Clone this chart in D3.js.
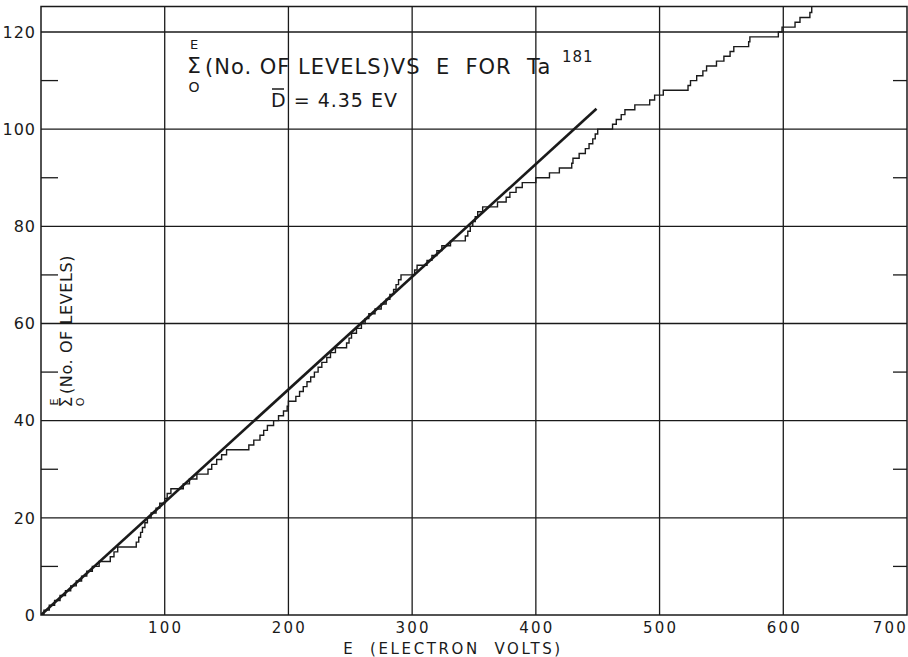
<!DOCTYPE html>
<html><head><meta charset="utf-8">
<script src="https://cdn.jsdelivr.net/npm/d3@7"></script>
<style>body{margin:0;background:#fff}svg{display:block}</style>
</head><body><svg id="c" width="908" height="657"></svg>
<script>
// ---- data ----
const xGridValues = [100, 200, 300, 400, 500, 600];
const xTickValues = [100, 200, 300, 400, 500, 600, 700];
const xTickLabels = ["100", "200", "300", "400", "500", "600", "700"];
const yTickValues = [0, 20, 40, 60, 80, 100, 120];
const yTickLabels = ["0", "20", "40", "60", "80", "100", "120"];
const yMinorTicks = [10, 30, 50, 70, 90, 110];
// energies (eV) at which each successive level is counted (cumulative count steps by 1)
const levelEnergies = [
  2.4, 6.7, 11, 15.4, 19.8, 24, 28.5, 32.8, 37, 41.5,
  47, 56, 59, 62, 77, 79, 80.5, 82, 84, 86,
  89, 93, 96, 100, 102, 105, 115, 120, 126, 135,
  138, 142, 146, 150, 168, 172, 177, 180, 183, 188,
  192, 196, 199, 200, 206, 209, 212, 215, 218, 221,
  224, 227, 231, 234, 238, 247, 249, 251, 255, 259,
  262, 265, 270, 275, 279, 282, 285, 287, 289, 291,
  302, 304, 312, 316, 320, 324, 331, 343, 345, 347,
  349, 351, 353, 357, 369, 376, 379, 384, 389, 400,
  411, 419, 429, 430, 435, 440, 443, 446, 448, 450,
  462, 465, 469, 472, 480, 492, 496, 503, 523, 525,
  530, 535, 538, 546, 552, 557, 560, 572, 573, 596,
  599, 609.5, 613.5, 621.5, 623
];
const meanSpacing = 4.35;          // D-bar (label)
const fitLineE = [0, 449];         // straight line drawn on the chart (energy)
const fitLineN = [0, 104.2];       // straight line drawn on the chart (count)

// ---- layout ----
const svg = d3.select("#c");
const W = 908, H = 657;
const x = d3.scaleLinear().domain([0, 700]).range([41, 907]);
const y = d3.scaleLinear().domain([0, 120]).range([615, 32]);
const yTop = y.invert(6.5);
const ink = "#1a1a1a";
const font = "'DejaVu Sans', 'Open Sans', sans-serif";

svg.append("rect").attr("width", W).attr("height", H).attr("fill", "#fff");

svg.append("defs").append("clipPath").attr("id", "plot")
  .append("rect").attr("x", x(0)).attr("y", y(yTop))
  .attr("width", x(700) - x(0)).attr("height", y(0) - y(yTop));

// grid
const g = svg.append("g").attr("stroke", ink).attr("stroke-width", 1.3).attr("fill", "none");
g.selectAll("line.vx").data(xGridValues).join("line").attr("class", "vx")
  .attr("x1", d => x(d)).attr("x2", d => x(d)).attr("y1", y(0)).attr("y2", y(yTop));
g.selectAll("line.hy").data(yTickValues.filter(d => d > 0)).join("line").attr("class", "hy")
  .attr("x1", x(0)).attr("x2", x(700)).attr("y1", d => y(d)).attr("y2", d => y(d));
// frame
g.append("rect").attr("x", x(0)).attr("y", y(yTop))
  .attr("width", x(700) - x(0)).attr("height", y(0) - y(yTop)).attr("stroke-width", 1.5);
// minor ticks (left and right, inward)
g.selectAll("line.ml").data(yMinorTicks).join("line").attr("class", "ml")
  .attr("x1", x(0)).attr("x2", x(0) + 17).attr("y1", d => y(d)).attr("y2", d => y(d));
g.selectAll("line.mr").data(yMinorTicks).join("line").attr("class", "mr")
  .attr("x1", x(700)).attr("x2", x(700) - 14).attr("y1", d => y(d)).attr("y2", d => y(d));

// tick labels
svg.append("g").selectAll("text").data(yTickValues).join("text")
  .attr("x", x(0) - 5).attr("y", d => y(d)).attr("dy", "0.36em")
  .attr("text-anchor", "end").attr("font-family", font).attr("font-size", 16)
  .attr("letter-spacing", 1).attr("fill", ink).text((d, i) => yTickLabels[i]);
svg.append("g").selectAll("text").data(xTickValues).join("text")
  .attr("x", d => x(d) + 1).attr("y", y(0) + 18)
  .attr("text-anchor", d => d === 700 ? "end" : "middle")
  .attr("font-family", font).attr("font-size", 15).attr("letter-spacing", 2.2)
  .attr("fill", ink).text((d, i) => xTickLabels[i]);

// x title
svg.append("text").attr("x", 453).attr("y", 654).attr("text-anchor", "middle")
  .attr("font-family", font).attr("font-size", 15).attr("letter-spacing", 2.6)
  .attr("fill", ink).attr("xml:space", "preserve").text("E  (ELECTRON  VOLTS)");

// y title (rotated, inside the frame)
const yl = svg.append("g").attr("transform", "translate(72,402) rotate(-90)")
  .attr("font-family", font).attr("fill", ink);
yl.append("text").attr("x", 0).attr("y", 0).attr("font-size", 17).attr("text-anchor", "middle").text("Σ");
yl.append("text").attr("x", 0).attr("y", -14).attr("font-size", 11).attr("text-anchor", "middle").text("E");
yl.append("text").attr("x", 0).attr("y", 12).attr("font-size", 11).attr("text-anchor", "middle").text("O");
yl.append("text").attr("x", 8).attr("y", 0).attr("font-size", 16).attr("letter-spacing", 0.6).text("(No. OF LEVELS)");

// title
const t = svg.append("g").attr("font-family", font).attr("fill", ink);
t.append("text").attr("x", 194).attr("y", 73).attr("font-size", 22).attr("text-anchor", "middle").text("Σ");
t.append("text").attr("x", 194).attr("y", 49).attr("font-size", 13).attr("text-anchor", "middle").text("E");
t.append("text").attr("x", 194).attr("y", 92).attr("font-size", 14).attr("text-anchor", "middle").text("O");
t.append("text").attr("x", 205).attr("y", 74).attr("font-size", 21).attr("letter-spacing", 1)
  .attr("xml:space", "preserve").text("(No. OF LEVELS)VS  E  FOR  Ta");
t.append("text").attr("x", 562).attr("y", 62).attr("font-size", 15).attr("letter-spacing", 1).text("181");
t.append("text").attr("x", 271).attr("y", 107).attr("font-size", 19).attr("letter-spacing", 1)
  .attr("xml:space", "preserve").text("D = 4.35 EV");
t.append("line").attr("x1", 272).attr("x2", 284).attr("y1", 89).attr("y2", 89)
  .attr("stroke", ink).attr("stroke-width", 1.5);

// data marks
const plot = svg.append("g").attr("clip-path", "url(#plot)");
const stairPts = [[0, 0]].concat(levelEnergies.map((e, i) => [e, i + 1]));
stairPts.push([levelEnergies[levelEnergies.length - 1], levelEnergies.length + 1]);
plot.append("path").datum(stairPts)
  .attr("d", d3.line().x(d => x(d[0])).y(d => y(d[1])).curve(d3.curveStepAfter))
  .attr("fill", "none").attr("stroke", ink).attr("stroke-width", 1.4);
plot.append("path").datum(fitLineE.map((e, i) => [e, fitLineN[i]]))
  .attr("d", d3.line().x(d => x(d[0])).y(d => y(d[1])))
  .attr("fill", "none").attr("stroke", ink).attr("stroke-width", 2.6);
</script></body></html>
